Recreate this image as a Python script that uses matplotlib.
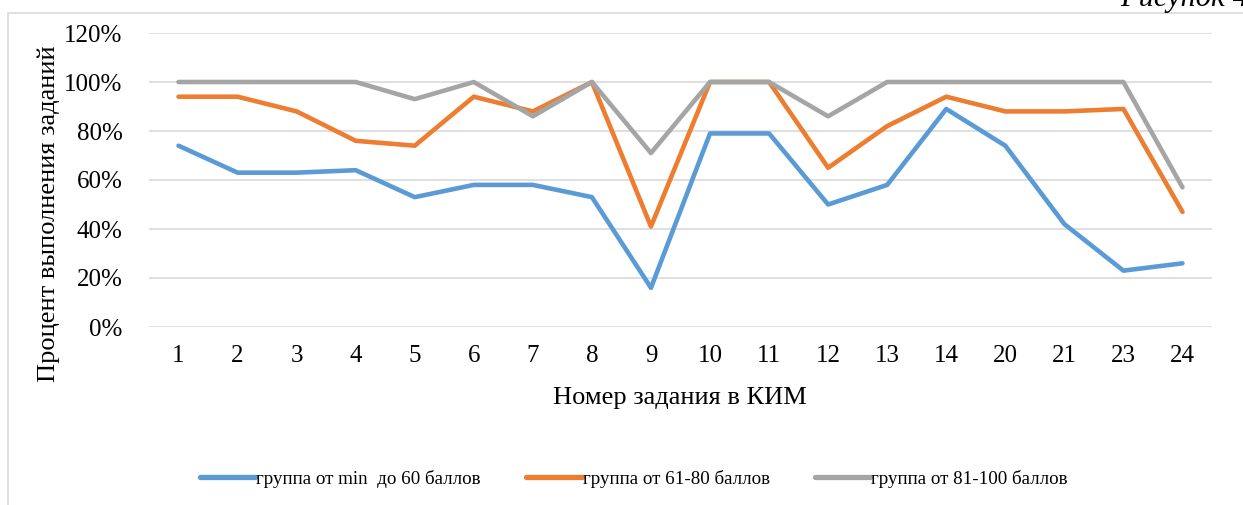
import matplotlib.pyplot as plt
from matplotlib.patches import Rectangle
import numpy as np

# --- Data ---
tasks = ['1', '2', '3', '4', '5', '6', '7', '8', '9', '10', '11', '12', '13', '14', '20', '21', '23', '24']
group_low = [74, 63, 63, 64, 53, 58, 58, 53, 16, 79, 79, 50, 58, 89, 74, 42, 23, 26]
group_mid = [94, 94, 88, 76, 74, 94, 88, 100, 41, 100, 100, 65, 82, 94, 88, 88, 89, 47]
group_high = [100, 100, 100, 100, 93, 100, 86, 100, 71, 100, 100, 86, 100, 100, 100, 100, 100, 57]
labels = ['группа от min  до 60 баллов', 'группа от 61-80 баллов', 'группа от 81-100 баллов']
colors = ['#5B9BD5', '#ED7D31', '#A5A5A5']

plt.rcParams['font.family'] = ['Liberation Serif', 'DejaVu Serif']

W, H = 1243, 505
fig = plt.figure(figsize=(W / 100, H / 100), dpi=100)
ax = fig.add_axes([149 / W, 1 - 327 / H, (1212 - 149) / W, (327 - 33) / H])

# chart frame (partly cut off on the right and bottom)
fig.patches.append(Rectangle((8 / W, -0.1), 1.2, 1.1 - 13 / H, transform=fig.transFigure,
                             fill=False, edgecolor='#D9D9D9', linewidth=1.2))

x = np.arange(len(tasks))
for vals, lab, col in zip([group_low, group_mid, group_high], labels, colors):
    ax.plot(x, np.array(vals) / 100, color=col, linewidth=3.3, label=lab,
            solid_joinstyle='round', solid_capstyle='round')

ax.set_xlim(-0.5, len(tasks) - 0.5)
ax.set_ylim(0, 1.2)
ax.set_yticks(np.arange(0, 1.21, 0.2))
ax.set_yticklabels([f'{int(round(v * 100))}%' for v in np.arange(0, 1.21, 0.2)])
ax.set_xticks(x)
ax.set_xticklabels(tasks)
ax.tick_params(axis='y', length=0, pad=19, labelsize=18)
ax.tick_params(axis='x', length=0, pad=13, labelsize=18)
ax.grid(axis='y', color='#D9D9D9', linewidth=1.2)
ax.set_axisbelow(True)
for s in ax.spines.values():
    s.set_visible(False)

fig.text(49 / W, 1 - 214 / H, 'Процент выполнения заданий', rotation=90,
         ha='center', va='center', fontsize=19)
fig.text(680 / W, 1 - 398 / H, 'Номер задания в КИМ', ha='center', va='center', fontsize=19)
fig.text(1120 / W, 1 - 6 / H, 'Рисунок 4', ha='left', va='baseline', fontsize=22, style='italic')

leg = fig.legend(loc='center', bbox_to_anchor=(634 / W, 1 - 479 / H), ncol=3, frameon=False,
                 fontsize=13.7, handlelength=2.9, handletextpad=0.05, columnspacing=2.4)
for line in leg.get_lines():
    line.set_linewidth(3.8)

plt.savefig('out.png', dpi=100)
